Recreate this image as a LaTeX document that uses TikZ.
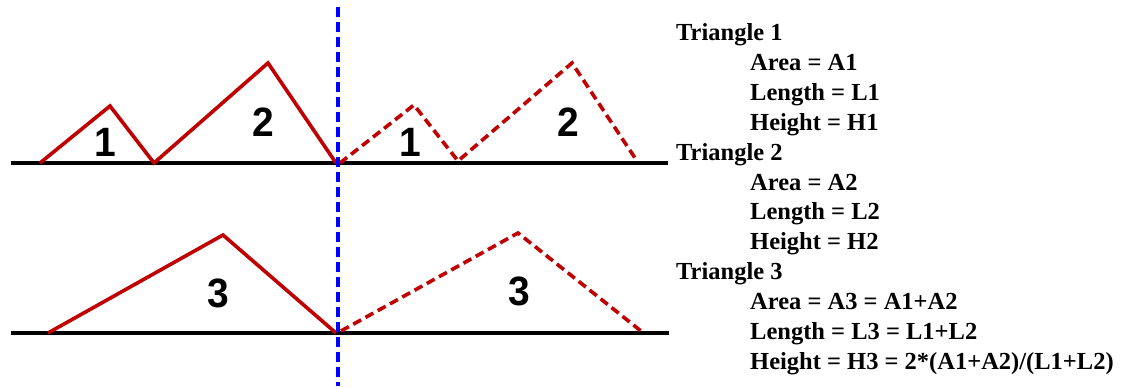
\documentclass[tikz,border=0pt]{standalone}
\usepackage{fontspec}
\setmainfont{Liberation Serif}
\newfontfamily\digitfont{Liberation Sans}
\definecolor{tred}{RGB}{192,0,0}
\definecolor{tblue}{RGB}{0,0,255}
\begin{document}
\begin{tikzpicture}[x=1pt,y=-1pt,
  ground/.style={black,line width=4.5pt},
  solidtri/.style={tred,line width=3.6pt,line join=miter},
  dashtri/.style={tred,line width=3.6pt,dash pattern=on 9pt off 5pt},
  axisline/.style={tblue,line width=3.6pt,dash pattern=on 10pt off 5pt},
  num/.style={font=\digitfont\bfseries\fontsize{41}{41}\selectfont,inner sep=0pt,xscale=0.95},
  head/.style={anchor=base west,inner sep=0pt,font=\bfseries\fontsize{24.5}{24.5}\selectfont},
  item/.style={head}]
\useasboundingbox (0,0) rectangle (1124,386);
% top ground line
\coordinate (g1a) at (11,163);
\coordinate (g1b) at (668,163);
\draw[ground] (g1a) -- (g1b);
% bottom ground line
\coordinate (g2a) at (11,333);
\coordinate (g2b) at (669,333);
\draw[ground] (g2a) -- (g2b);
% left top triangles
\coordinate (a0) at (40,163);
\coordinate (a1) at (110,106);
\coordinate (a2) at (154,163);
\coordinate (a3) at (268,63);
\coordinate (a4) at (336,163);
\draw[solidtri] (a0) -- (a1) -- (a2) -- (a3) -- (a4);
% right top triangles
\coordinate (b0) at (340,163);
\coordinate (b1) at (414,105);
\coordinate (b2) at (458,161);
\coordinate (b3) at (572,63);
\coordinate (b4) at (637,161);
\draw[dashtri] (b0) -- (b1) -- (b2) -- (b3) -- (b4);
% bottom triangles
\coordinate (c0) at (48,333);
\coordinate (c1) at (223,235);
\coordinate (c2) at (336,333);
\draw[solidtri] (c0) -- (c1) -- (c2);
\coordinate (d0) at (341,331);
\coordinate (d1) at (518,233);
\coordinate (d2) at (641,331);
\draw[dashtri] (d0) -- (d1) -- (d2);
% blue axis
\coordinate (ax1) at (338,7);
\coordinate (ax2) at (338,386);
\draw[axisline] (ax1) -- (ax2);
% numbers
\node[num] (n1l) at (105,142) {1};
\node[num] (n2l) at (263,122) {2};
\node[num] (n1r) at (410,142) {1};
\node[num] (n2r) at (568,122) {2};
\node[num] (n3l) at (218,293) {3};
\node[num] (n3r) at (519,291) {3};
% text
\node[head] (t1) at (676,40) {Triangle 1};
\node[item] (t1a) at (750,70) {Area = A1};
\node[item] (t1l) at (750,100) {Length = L1};
\node[item] (t1h) at (750,130) {Height = H1};
\node[head] (t2) at (676,160) {Triangle 2};
\node[item] (t2a) at (750,190) {Area = A2};
\node[item] (t2l) at (750,219) {Length = L2};
\node[item] (t2h) at (750,249) {Height = H2};
\node[head] (t3) at (676,279) {Triangle 3};
\node[item] (t3a) at (750,309) {Area = A3 = A1+A2};
\node[item] (t3l) at (750,339) {Length = L3 = L1+L2};
\node[item] (t3h) at (750,369) {Height = H3 = 2*(A1+A2)/(L1+L2)};
\end{tikzpicture}
\end{document}
